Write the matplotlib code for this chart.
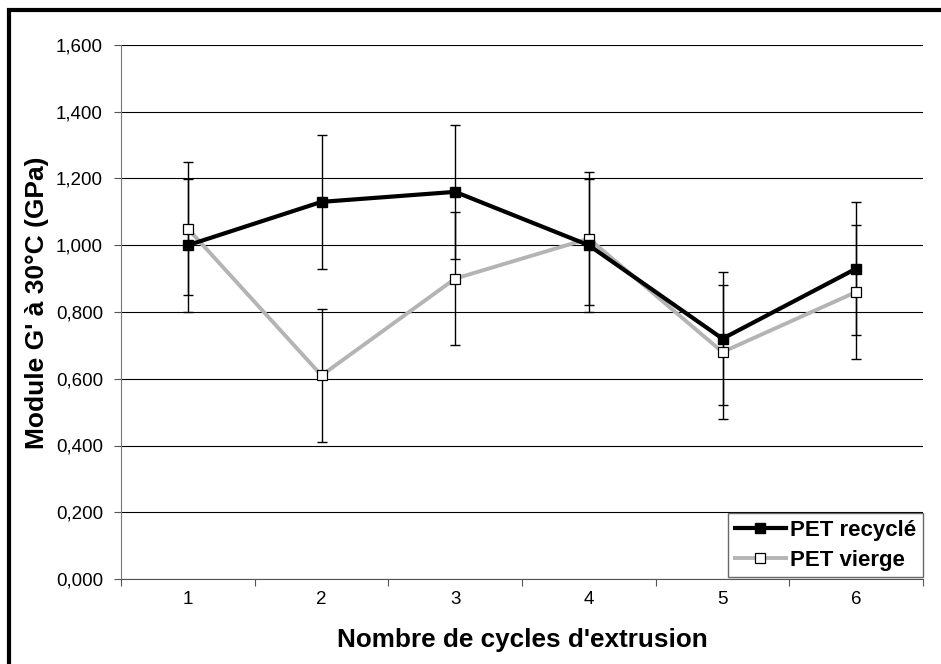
import numpy as np
import matplotlib.pyplot as plt
from matplotlib.patches import Rectangle
from matplotlib.ticker import FuncFormatter, FixedLocator

plt.rcParams['font.family'] = ['Liberation Sans', 'DejaVu Sans']

cycles = [1, 2, 3, 4, 5, 6]
recycle = [1.00, 1.13, 1.16, 1.00, 0.72, 0.93]
recycle_err = [0.20, 0.20, 0.20, 0.20, 0.20, 0.20]
vierge = [1.05, 0.61, 0.90, 1.02, 0.68, 0.86]
vierge_err = [0.20, 0.20, 0.20, 0.20, 0.20, 0.20]

fig = plt.figure(figsize=(9.41, 6.64), dpi=100)
ax = fig.add_axes([121 / 941, 85 / 664, 802 / 941, 534 / 664])

# outer chart border (left / top visible)
fig.patches.append(Rectangle((9 / 941, -0.1), 1.2, (654 / 664) + 0.1,
                             transform=fig.transFigure, fill=False,
                             edgecolor='black', linewidth=3, clip_on=False))

x = np.array(cycles)
ax.errorbar(x, vierge, yerr=vierge_err, fmt='none', ecolor='black',
            elinewidth=1, capsize=3.6, capthick=1, zorder=3)
ax.errorbar(x, recycle, yerr=recycle_err, fmt='none', ecolor='black',
            elinewidth=1, capsize=3.6, capthick=1, zorder=3)

ax.plot(x, vierge, color='#b4b4b4', linewidth=2.8, marker='s', markersize=7,
        markerfacecolor='white', markeredgecolor='black', markeredgewidth=0.9,
        label='PET vierge', zorder=4)
ax.plot(x, recycle, color='black', linewidth=3, marker='s', markersize=7,
        markerfacecolor='black', markeredgecolor='black',
        label='PET recyclé', zorder=5)

ax.set_xlim(0.5, 6.5)
ax.set_ylim(0, 1.6)
ax.set_yticks(np.arange(0, 1.61, 0.2))
ax.yaxis.set_major_formatter(FuncFormatter(lambda v, p: f"{v:.3f}".replace('.', ',')))
ax.yaxis.grid(True, color='black', linewidth=0.8)
ax.set_axisbelow(True)

ax.xaxis.set_major_locator(FixedLocator(np.arange(0.5, 6.6, 1)))
ax.xaxis.set_minor_locator(FixedLocator(cycles))
ax.xaxis.set_major_formatter(FuncFormatter(lambda v, p: ''))
ax.set_xticklabels([str(c) for c in cycles], minor=True)
ax.tick_params(axis='x', which='minor', length=0, labelsize=13.5, pad=9)
ax.tick_params(axis='x', which='major', length=5, color='#555555', direction='out')
ax.tick_params(axis='y', length=5, color='#555555', labelsize=13.5, pad=8)

for s in ['top', 'right']:
    ax.spines[s].set_visible(False)
ax.spines['left'].set_color('#777777')
ax.spines['bottom'].set_color('#555555')

ax.set_xlabel("Nombre de cycles d'extrusion", fontsize=18.8, fontweight='bold')
ax.set_ylabel("Module G' à 30°C (GPa)", fontsize=19, fontweight='bold')
ax.xaxis.set_label_coords(0.5, -0.092)
ax.yaxis.set_label_coords(-0.09, 0.517)

h, l = ax.get_legend_handles_labels()
leg = ax.legend(h[::-1], l[::-1], loc='lower right', bbox_to_anchor=(1.0, 0.003),
                prop={'weight': 'bold', 'size': 16}, frameon=True, fancybox=False,
                borderpad=0.3, handlelength=2.3, handletextpad=0.2,
                labelspacing=0.4, borderaxespad=0)
leg.get_frame().set_edgecolor('#444444')
leg.get_frame().set_linewidth(1)
leg.set_zorder(10)

fig.savefig('out.png', dpi=100)
